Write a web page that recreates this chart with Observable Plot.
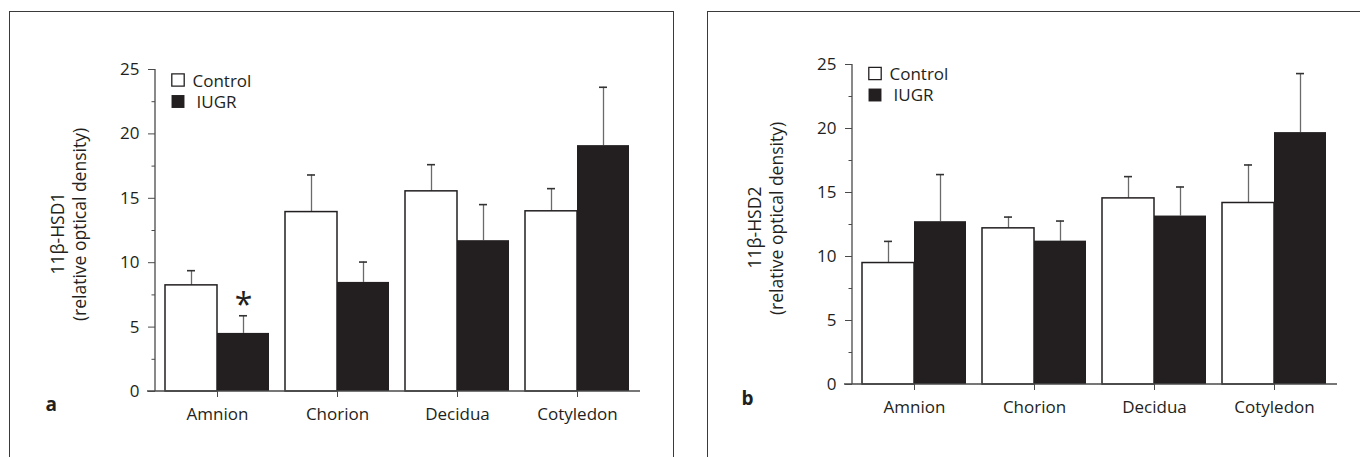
<!DOCTYPE html>
<html><head><meta charset="utf-8">
<script src="https://cdn.jsdelivr.net/npm/d3@7"></script>
<script src="https://cdn.jsdelivr.net/npm/@observablehq/plot@0.6"></script>
<style>
body{margin:0;background:#fff;}
#wrap{position:relative;width:1360px;height:457px;overflow:hidden;font-family:"Open Sans",sans-serif;}
.frame{position:absolute;border:1.5px solid #3a3a3a;box-sizing:border-box;}
.panel{position:absolute;top:0;}
</style></head><body>
<div id="wrap">
<div class="frame" style="left:9px;top:11px;width:665px;height:480px"></div>
<div class="frame" style="left:707px;top:11px;width:700px;height:480px"></div>
<div class="panel" id="pa" style="left:0px"></div>
<div class="panel" id="pb" style="left:680px"></div>
</div>
<script>
const tissues = ["Amnion", "Chorion", "Decidua", "Cotyledon"];
const series = ["Control", "IUGR"];
const yTicks = [0, 5, 10, 15, 20, 25];
const yMinorTicks = [2.5, 7.5, 12.5, 17.5, 22.5];

// 11β-HSD1 (panel a): mean and SE
const hsd1Control = [8.24, 13.93, 15.54, 13.99];
const hsd1ControlErr = [1.14, 2.88, 2.07, 1.76];
const hsd1IUGR = [4.51, 8.47, 11.71, 19.09];
const hsd1IUGRErr = [1.37, 1.58, 2.80, 4.53];
const hsd1Star = [{tissue: "Amnion", group: "IUGR", y: 7.2, text: "*"}];

// 11β-HSD2 (panel b)
const hsd2Control = [9.49, 12.20, 14.54, 14.18];
const hsd2ControlErr = [1.69, 0.88, 1.70, 2.97];
const hsd2IUGR = [12.72, 11.20, 13.16, 19.68];
const hsd2IUGRErr = [3.68, 1.57, 2.27, 4.61];

const INK = "#231f20";
const FONT = "Open Sans";
const colors = {Control: "#ffffff", IUGR: INK};

function panel(cfg) {
  const rows = [];
  tissues.forEach((t, i) => {
    rows.push({tissue: t, group: "Control", value: cfg.control[i], err: cfg.controlErr[i]});
    rows.push({tissue: t, group: "IUGR", value: cfg.iugr[i], err: cfg.iugrErr[i]});
  });
  rows.forEach(d => d.top = d.value + d.err);
  const ctrl = rows.filter(d => d.group === "Control");
  const iugr = rows.filter(d => d.group === "IUGR");
  const base = {
    width: 680, height: 457,
    marginLeft: cfg.ml, marginRight: cfg.mr, marginTop: cfg.mt, marginBottom: cfg.mb,
    x: {domain: tissues, paddingInner: 0.133, paddingOuter: 0.079, label: null},
    y: {domain: [0, 25], label: null},
    style: {fontFamily: FONT, background: "transparent", color: INK, overflow: "visible"}
  };
  const probe = Plot.plot({...base, marks: [Plot.barY(rows, {x: "tissue", y: "value"})]});
  const bw = probe.scale("x").bandwidth;
  const half = bw / 2, q = bw / 4, cap = 4;

  const axisLines = (index, scales, values, dims) => {
    const g = d3.create("svg:g").attr("stroke", "#4a4a4a").attr("stroke-width", 1.3);
    g.append("line")
      .attr("x1", dims.marginLeft).attr("x2", dims.marginLeft)
      .attr("y1", scales.y(0)).attr("y2", scales.y(25));
    g.append("line")
      .attr("x1", dims.marginLeft - 8).attr("x2", dims.width - dims.marginRight)
      .attr("y1", scales.y(0)).attr("y2", scales.y(0));
    return g.node();
  };

  const marks = [
    // error bars (behind bars)
    Plot.ruleX(ctrl, {x: "tissue", y1: "value", y2: "top", dx: -q, stroke: "#6a6a6a", strokeWidth: 1.3}),
    Plot.ruleX(iugr, {x: "tissue", y1: "value", y2: "top", dx: q, stroke: "#6a6a6a", strokeWidth: 1.3}),
    Plot.tickY(ctrl, {x: "tissue", y: "top", insetLeft: q - cap, insetRight: 3 * q - cap, stroke: "#333", strokeWidth: 1.6}),
    Plot.tickY(iugr, {x: "tissue", y: "top", insetLeft: 3 * q - cap, insetRight: q - cap, stroke: "#333", strokeWidth: 1.6}),
    // bars
    Plot.barY(ctrl, {x: "tissue", y: "value", insetRight: half, fill: colors.Control, stroke: INK, strokeWidth: 1.5}),
    Plot.barY(iugr, {x: "tissue", y: "value", insetLeft: half, fill: colors.IUGR}),
    // axes
    axisLines,
    Plot.axisY({ticks: yTicks, tickSize: 7, tickPadding: 9, fontSize: 17, stroke: "#4a4a4a", fill: INK, label: null}),
    Plot.axisY({ticks: yMinorTicks, tickSize: 3.5, tickFormat: () => "", stroke: "#4a4a4a", label: null}),
    Plot.axisX({tickSize: 6, tickPadding: 10, fontSize: 17, stroke: "#4a4a4a", fill: INK, label: null}),
    // y label
    Plot.text([cfg.label], {text: d => d, frameAnchor: "left", dx: -97, dy: 3, rotate: -90, textAnchor: "middle", lineAnchor: "middle", fontSize: 17.5, fill: INK}),
    Plot.text(["(relative optical density)"], {text: d => d, frameAnchor: "left", dx: -75, dy: -6, rotate: -90, textAnchor: "middle", lineAnchor: "middle", fontSize: 17.5, fill: INK}),
    // panel letter
    Plot.text([cfg.letter], {text: d => d, frameAnchor: "bottom-left", dx: cfg.letterDx, dy: cfg.letterDy, textAnchor: "start", lineAnchor: "bottom", fontSize: 19, fontWeight: "bold", fill: INK}),
    // legend
    Plot.dot([series[0]], {frameAnchor: "top-left", dx: 22.5, dy: cfg.legDy + 10.5, symbol: "square", r: 7, fill: colors.Control, stroke: INK, strokeWidth: 1.3}),
    Plot.dot([series[1]], {frameAnchor: "top-left", dx: 22.5, dy: cfg.legDy + 32, symbol: "square", r: 7.3, fill: colors.IUGR}),
    Plot.text([series[0]], {text: d => d, frameAnchor: "top-left", dx: 37, dy: cfg.legDy + 17, textAnchor: "start", lineAnchor: "bottom", fontSize: 17, fill: INK}),
    Plot.text([series[1]], {text: d => d, frameAnchor: "top-left", dx: 41, dy: cfg.legDy + 38, textAnchor: "start", lineAnchor: "bottom", fontSize: 17, fill: INK})
  ];
  if (cfg.star) {
    marks.push(Plot.text(cfg.star, {x: "tissue", y: "y", text: "text", dx: q, dy: 7, fontSize: 32, fill: INK, lineAnchor: "middle"}));
  }
  return Plot.plot({...base, marks});
}

document.getElementById("pa").append(panel({
  ml: 155, mr: 40, mt: 69, mb: 66,
  control: hsd1Control, controlErr: hsd1ControlErr, iugr: hsd1IUGR, iugrErr: hsd1IUGRErr,
  label: "11β-HSD1", letter: "a", letterDx: -110, letterDy: 19, legDy: 0, star: hsd1Star
}));
document.getElementById("pb").append(panel({
  ml: 172, mr: 23, mt: 64, mb: 73,
  control: hsd2Control, controlErr: hsd2ControlErr, iugr: hsd2IUGR, iugrErr: hsd2IUGRErr,
  label: "11β-HSD2", letter: "b", letterDx: -111, letterDy: 20, legDy: -1.5, star: null
}));
</script>
</body></html>
